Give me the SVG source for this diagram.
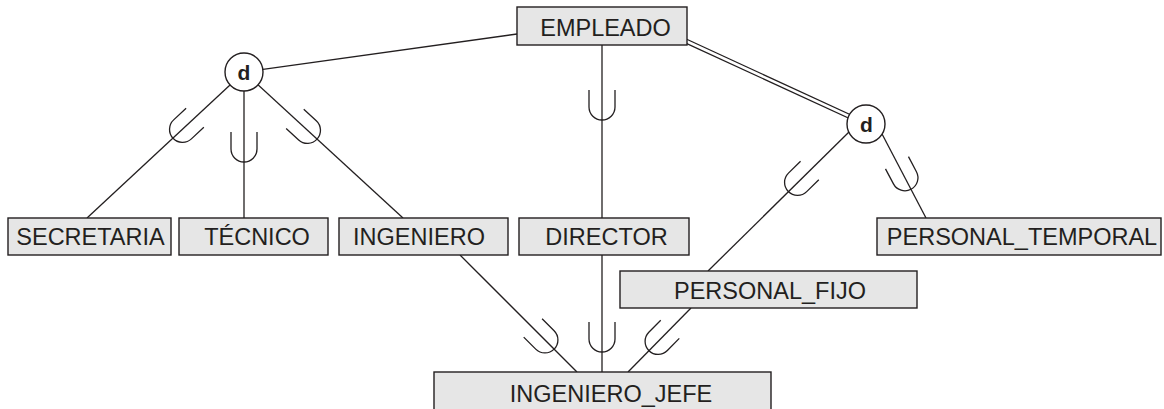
<svg xmlns="http://www.w3.org/2000/svg" xmlns:xlink="http://www.w3.org/1999/xlink" width="1164" height="409" viewBox="0 0 1164 409">
<style>
.ln{stroke:#231f20;stroke-width:1.3;fill:none}
.dbl{stroke:#231f20;stroke-width:5.2;fill:none}
.dblw{stroke:#ffffff;stroke-width:2.6;fill:none}
.box{fill:#e6e6e6;stroke:#231f20;stroke-width:1.4}
.lbl{font-family:"Liberation Sans",Arial,sans-serif;font-size:23.5px;fill:#231f20;text-anchor:middle}
.circ{fill:#ffffff;stroke:#231f20;stroke-width:1.4}
.d{font-family:"Liberation Sans",Arial,sans-serif;font-size:21px;font-weight:bold;fill:#231f20;text-anchor:middle}
</style>
<defs>
<path id="u" class="ln" d="M -13 -15 V 2 A 13 13 0 0 0 13 2 V -15"/>
</defs>
<rect width="1164" height="409" fill="#ffffff"/>
<g id="connectors">
  <line class="ln" x1="517" y1="34" x2="244" y2="72"/>
  <line class="ln" x1="244" y1="72" x2="87" y2="218"/>
  <line class="ln" x1="244" y1="72" x2="244" y2="218"/>
  <line class="ln" x1="244" y1="72" x2="403" y2="218"/>
  <line class="ln" x1="602" y1="45" x2="602" y2="218"/>
  <line class="dbl" x1="680" y1="38.3" x2="866" y2="124"/>
  <line class="dblw" x1="680" y1="38.3" x2="866" y2="124"/>
  <line class="ln" x1="850" y1="131" x2="708" y2="271"/>
  <line class="ln" x1="881" y1="132" x2="926" y2="218"/>
  <line class="ln" x1="460" y1="255" x2="577" y2="372"/>
  <line class="ln" x1="602" y1="255" x2="602" y2="372"/>
  <line class="ln" x1="691" y1="308" x2="628" y2="372"/>
  <use href="#u" xlink:href="#u" transform="translate(184,128) rotate(47)"/>
  <use href="#u" xlink:href="#u" transform="translate(244,147)"/>
  <use href="#u" xlink:href="#u" transform="translate(306,129) rotate(-47.4)"/>
  <use href="#u" xlink:href="#u" transform="translate(602,105)"/>
  <use href="#u" xlink:href="#u" transform="translate(799,181) rotate(45.4)"/>
  <use href="#u" xlink:href="#u" transform="translate(904,176) rotate(-27.9)"/>
  <use href="#u" xlink:href="#u" transform="translate(543.5,338.5) rotate(-45)"/>
  <use href="#u" xlink:href="#u" transform="translate(602,337)"/>
  <use href="#u" xlink:href="#u" transform="translate(659.5,340) rotate(44.5)"/>
</g>
<g id="EMPLEADO">
  <rect class="box" x="517" y="7" width="170" height="38"/>
  <text class="lbl" x="605.5" y="36">EMPLEADO</text>
</g>
<g id="d-left">
  <circle class="circ" cx="244" cy="72" r="19"/>
  <text class="d" x="244" y="79.5">d</text>
</g>
<g id="d-right">
  <circle class="circ" cx="866" cy="124" r="19"/>
  <text class="d" x="866.5" y="131.5">d</text>
</g>
<g id="SECRETARIA">
  <rect class="box" x="8" y="218" width="163" height="37"/>
  <text class="lbl" x="90.5" y="245">SECRETARIA</text>
</g>
<g id="TECNICO">
  <rect class="box" x="179" y="218" width="149" height="37"/>
  <text class="lbl" x="257" y="245">TÉCNICO</text>
</g>
<g id="INGENIERO">
  <rect class="box" x="339" y="218" width="169" height="37"/>
  <text class="lbl" x="419" y="245">INGENIERO</text>
</g>
<g id="DIRECTOR">
  <rect class="box" x="519" y="218" width="170" height="37"/>
  <text class="lbl" x="606.5" y="245">DIRECTOR</text>
</g>
<g id="PERSONAL_TEMPORAL">
  <rect class="box" x="877" y="218" width="284" height="37"/>
  <text class="lbl" x="1022" y="244.5">PERSONAL_TEMPORAL</text>
</g>
<g id="PERSONAL_FIJO">
  <rect class="box" x="620" y="271" width="297" height="37"/>
  <text class="lbl" x="770" y="299">PERSONAL_FIJO</text>
</g>
<g id="INGENIERO_JEFE">
  <rect class="box" x="434" y="372" width="337" height="45"/>
  <text class="lbl" x="611" y="402">INGENIERO_JEFE</text>
</g>
</svg>
